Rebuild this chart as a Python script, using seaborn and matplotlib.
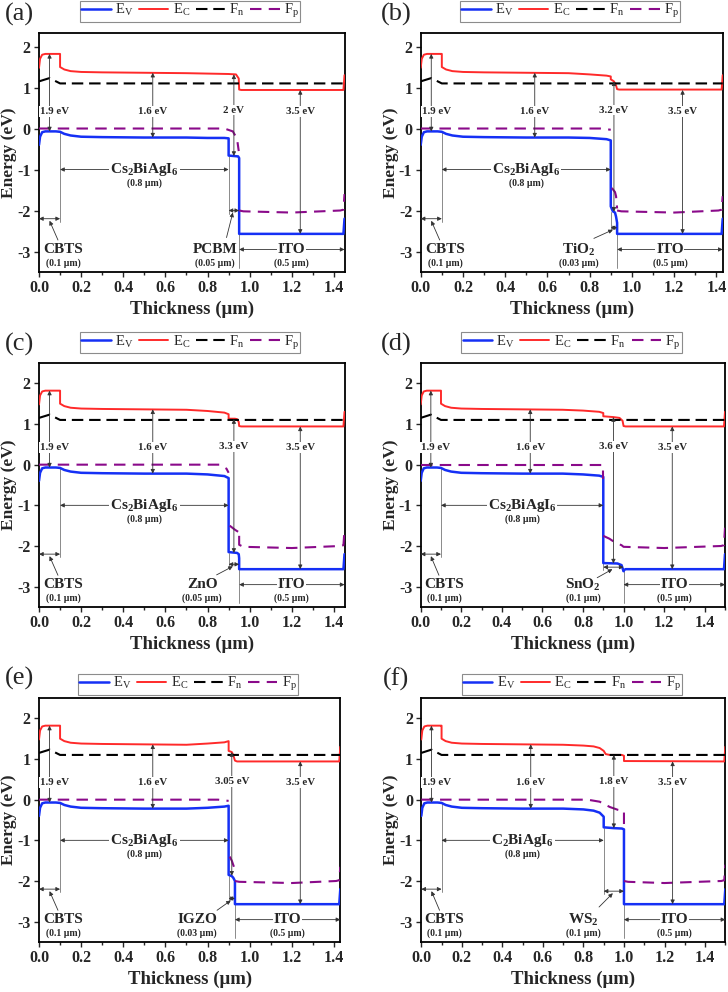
import numpy as np
import pandas as pd
import matplotlib
matplotlib.use('Agg')
import matplotlib.pyplot as plt
import seaborn as sns

sns.set_style('ticks')
plt.rcParams['font.family'] = ['Liberation Serif', 'DejaVu Serif']
plt.rcParams['mathtext.fontset'] = 'custom'
plt.rcParams['mathtext.rm'] = 'Liberation Serif'
plt.rcParams['mathtext.bf'] = 'Liberation Serif:bold'
plt.rcParams['mathtext.it'] = 'Liberation Serif:italic'
plt.rcParams['axes.unicode_minus'] = False

# ---------------- data ----------------
PANEL_LETTERS = ['(a)', '(b)', '(c)', '(d)', '(e)', '(f)']
CBTS_THICK = 0.1
ABS_THICK = 0.8
ITO_THICK = 0.5
ETL_THICK = [0.05, 0.03, 0.05, 0.1, 0.03, 0.1]
ETL_NAMES = ['PCBM', 'TiO$_\\mathbf{2}$', 'ZnO', 'SnO$_\\mathbf{2}$', 'IGZO', 'WS$_\\mathbf{2}$']
ETL_THICK_LABELS = ['(0.05 μm)', '(0.03 μm)', '(0.05 μm)', '(0.1 μm)', '(0.03 μm)', '(0.1 μm)']
ABS_NAMES = ['Cs$_\\mathbf{2}$BiAgI$_\\mathbf{6}$'] * 5 + ['C$_\\mathbf{2}$BiAgI$_\\mathbf{6}$']
ETL_GAP_LABELS = ['2 eV', '3.2 eV', '3.3 eV', '3.6 eV', '3.05 eV', '1.8 eV']
ETL_EV = [-0.67, -2.03, -2.17, -2.43, -1.87, -0.70]
ETL_EC = [1.32, 1.15, 1.12, 1.17, 1.17, 1.10]
CBTS_EV, CBTS_EC = -0.07, 1.82
ABS_EV, ABS_EC = -0.22, 1.36
ITO_EV, ITO_EC = -2.57, 0.94

# common part (CBTS + absorber, up to 0.7 um)
EC_HEAD_X = [0.0, 0.005, 0.015, 0.03, 0.095, 0.1, 0.1, 0.12, 0.15, 0.2, 0.3, 0.5, 0.7]
EC_HEAD_Y = [1.48, 1.70, 1.80, 1.82, 1.82, 1.82, 1.50, 1.44, 1.40, 1.38, 1.37, 1.36, 1.35]
EV_HEAD_X = [0.0, 0.005, 0.015, 0.03, 0.08, 0.1, 0.12, 0.15, 0.2, 0.3, 0.5, 0.7]
EV_HEAD_Y = [-0.40, -0.20, -0.09, -0.07, -0.07, -0.08, -0.13, -0.17, -0.20, -0.21, -0.22, -0.22]
FN_HEAD_X = [0.0, 0.05, 0.1]
FN_HEAD_Y = [1.15, 1.23, 1.10]
FN_LEVEL = 1.10

# (a) PCBM
EC_X_A = [0.8, 0.9, 0.935, 0.948, 0.95, 0.96, 1.445, 1.45]
EC_Y_A = [1.34, 1.33, 1.32, 1.22, 0.95, 0.94, 0.94, 1.30]
EV_X_A = [0.8, 0.88, 0.9, 0.9, 0.945, 0.95, 0.95, 1.445, 1.45]
EV_Y_A = [-0.23, -0.23, -0.24, -0.66, -0.68, -0.72, -2.57, -2.57, -2.20]
FP_X_A = [[0.0, 0.88, 0.92, 0.94, 0.948], [0.95, 0.97, 1.2, 1.43, 1.445, 1.45]]
FP_Y_A = [[0.0, 0.0, -0.07, -0.25, -0.55], [-2.0, -2.02, -2.05, -2.0, -1.98, -1.6]]

# (b) TiO2
EC_X_B = [0.8, 0.88, 0.9, 0.9, 0.915, 0.925, 0.93, 0.94, 1.425, 1.43]
EC_Y_B = [1.32, 1.29, 1.27, 1.20, 1.15, 1.05, 0.96, 0.95, 0.95, 1.30]
EV_X_B = [0.8, 0.88, 0.9, 0.9, 0.91, 0.92, 0.925, 0.93, 0.93, 1.425, 1.43]
EV_Y_B = [-0.23, -0.26, -0.29, -1.90, -2.02, -2.05, -2.15, -2.30, -2.57, -2.57, -2.20]
FP_X_B = [[0.0, 0.85, 0.9], [0.905, 0.92, 0.925, 0.93], [0.93, 0.95, 1.2, 1.41, 1.425, 1.43]]
FP_Y_B = [[0.0, 0.0, -0.03], [-1.45, -1.55, -1.65, -1.95], [-2.0, -2.02, -2.05, -2.0, -1.98, -1.65]]

# (c) ZnO
EC_X_C = [0.8, 0.88, 0.9, 0.9, 0.93, 0.94, 0.948, 0.95, 0.96, 1.445, 1.45]
EC_Y_C = [1.32, 1.28, 1.24, 1.13, 1.13, 1.12, 1.05, 0.95, 0.94, 0.94, 1.30]
EV_X_C = [0.8, 0.88, 0.9, 0.9, 0.94, 0.948, 0.95, 0.95, 1.445, 1.45]
EV_Y_C = [-0.24, -0.28, -0.33, -2.15, -2.17, -2.20, -2.30, -2.57, -2.57, -2.20]
FP_X_C = [[0.0, 0.86, 0.89, 0.9], [0.905, 0.93, 0.945], [0.95, 0.95, 0.97, 1.2, 1.43, 1.445, 1.45]]
FP_Y_C = [[0.0, 0.0, -0.1, -0.2], [-1.5, -1.6, -1.65], [-1.75, -1.97, -2.02, -2.05, -2.0, -1.98, -1.6]]

# (d) SnO2
EC_X_D = [0.8, 0.88, 0.9, 0.9, 0.95, 0.98, 0.995, 1.0, 1.01, 1.495, 1.5]
EC_Y_D = [1.33, 1.30, 1.27, 1.19, 1.17, 1.15, 1.08, 0.95, 0.94, 0.94, 1.30]
EV_X_D = [0.8, 0.88, 0.9, 0.9, 0.97, 0.99, 1.0, 1.0, 1.01, 1.495, 1.5]
EV_Y_D = [-0.24, -0.27, -0.30, -2.42, -2.43, -2.47, -2.62, -2.60, -2.57, -2.57, -2.20]
FP_X_D = [[0.0, 0.9, 0.9], [0.9, 0.93, 0.96, 0.99, 1.0, 1.2, 1.48, 1.495, 1.5]]
FP_Y_D = [[0.0, 0.0, -0.35], [-1.75, -1.82, -1.92, -1.98, -2.02, -2.05, -2.0, -1.98, -1.55]]

# (e) IGZO
EC_X_E = [0.8, 0.88, 0.9, 0.9, 0.915, 0.922, 0.93, 0.94, 1.425, 1.43]
EC_Y_E = [1.38, 1.41, 1.44, 1.20, 1.17, 1.10, 0.96, 0.94, 0.94, 1.30]
EV_X_E = [0.8, 0.88, 0.9, 0.9, 0.915, 0.922, 0.93, 0.93, 1.425, 1.43]
EV_Y_E = [-0.20, -0.17, -0.15, -1.85, -1.88, -1.92, -2.0, -2.57, -2.57, -2.20]
FP_X_E = [[0.0, 0.85, 0.9], [0.905, 0.915, 0.925], [0.93, 0.95, 1.2, 1.41, 1.425, 1.43]]
FP_Y_E = [[0.0, 0.0, -0.03], [-1.4, -1.5, -1.65], [-2.0, -2.02, -2.05, -2.0, -1.98, -1.65]]

# (f) WS2
EC_X_F = [0.8, 0.85, 0.88, 0.9, 0.91, 0.93, 0.99, 1.0, 1.0, 1.495, 1.5]
EC_Y_F = [1.33, 1.31, 1.27, 1.20, 1.12, 1.10, 1.10, 1.08, 0.95, 0.94, 1.30]
EV_X_F = [0.8, 0.85, 0.88, 0.9, 0.9, 0.95, 0.99, 1.0, 1.0, 1.495, 1.5]
EV_Y_F = [-0.24, -0.27, -0.32, -0.42, -0.68, -0.70, -0.71, -0.73, -2.57, -2.57, -2.20]
FP_X_F = [[0.0, 0.82, 0.88, 0.93, 0.97, 1.0, 1.0], [1.0, 1.02, 1.2, 1.48, 1.495, 1.5]]
FP_Y_F = [[0.0, 0.0, -0.05, -0.18, -0.25, -0.28, -0.6], [-2.0, -2.02, -2.05, -2.0, -1.98, -1.6]]

EC_X = [EC_X_A, EC_X_B, EC_X_C, EC_X_D, EC_X_E, EC_X_F]
EC_Y = [EC_Y_A, EC_Y_B, EC_Y_C, EC_Y_D, EC_Y_E, EC_Y_F]
EV_X = [EV_X_A, EV_X_B, EV_X_C, EV_X_D, EV_X_E, EV_X_F]
EV_Y = [EV_Y_A, EV_Y_B, EV_Y_C, EV_Y_D, EV_Y_E, EV_Y_F]
FP_X = [FP_X_A, FP_X_B, FP_X_C, FP_X_D, FP_X_E, FP_X_F]
FP_Y = [FP_Y_A, FP_Y_B, FP_Y_C, FP_Y_D, FP_Y_E, FP_Y_F]

# ---------------- layout / style ----------------
W, H = 728, 992
AX_PX = [(39, 33, 344.5, 272), (420.7, 33, 722.7, 272),
         (39, 363, 344.5, 607), (420.7, 363, 725, 607),
         (39, 698, 340.3, 942), (421.3, 698, 725.3, 942)]
YLIMS = [(-3.5, 2.33), (-3.5, 2.33), (-3.5, 2.5), (-3.5, 2.5), (-3.5, 2.5), (-3.5, 2.5)]
LETTER_PX = [(19, 14), (396, 14), (19, 344), (396, 344), (19, 678), (396, 679)]
LEG_Y = [1.092, 1.092, 1.084, 1.084, 1.057, 1.057]
ETL_ARROW_Y = [-2.0, -2.42, -2.45, -2.52, -2.43, -2.25]
ETL_TEXT_X = [0.835, 0.75, 0.775, 0.80, 0.75, 0.80]
ETL_PTR_FROM = [(0.89, -2.66), (0.82, -2.68), (0.843, -2.71), (0.87, -2.78), (0.845, -2.72), (0.877, -2.64)]

BLUE = '#1530f5'
RED = '#ff2a2a'
BLACK = '#000000'
PURPLE = '#8a0a8a'
ARW = '#333333'

fig = plt.figure(figsize=(W / 100, H / 100), dpi=100)


def darrow(ax, p1, p2, style='<|-|>'):
    ax.annotate('', xy=p2, xytext=p1,
                arrowprops=dict(arrowstyle=style, color=ARW, lw=0.6,
                                mutation_scale=6, shrinkA=0, shrinkB=0),
                zorder=4)


def label(ax, x, y, s, size, bg=True):
    kw = dict(ha='center', va='center', fontsize=size, fontweight='bold', zorder=6)
    if bg:
        kw['bbox'] = dict(facecolor='white', edgecolor='none', pad=0.6)
    ax.text(x, y, s, **kw)


for i in range(6):
    l, t, r, b = AX_PX[i]
    ax = fig.add_axes([l / W, 1 - b / H, (r - l) / W, (b - t) / H])
    b1 = CBTS_THICK
    b2 = CBTS_THICK + ABS_THICK
    b3 = b2 + ETL_THICK[i]
    end = b3 + ITO_THICK

    ev_x = EV_HEAD_X + EV_X[i]
    ev_y = EV_HEAD_Y + EV_Y[i]
    ec_x = EC_HEAD_X + EC_X[i]
    ec_y = EC_HEAD_Y + EC_Y[i]
    fn_x = FN_HEAD_X + [end]
    fn_y = FN_HEAD_Y + [FN_LEVEL]

    sns.lineplot(x=ev_x, y=ev_y, ax=ax, color=BLUE, lw=1.8, sort=False,
                 estimator=None, label='E$_\\mathrm{V}$', zorder=3)
    sns.lineplot(x=ec_x, y=ec_y, ax=ax, color=RED, lw=1.4, sort=False,
                 estimator=None, label='E$_\\mathrm{C}$', zorder=3)
    sns.lineplot(x=fn_x, y=fn_y, ax=ax, color=BLACK, lw=1.5, sort=False,
                 estimator=None, label='F$_\\mathrm{n}$', linestyle=(0, (5.5, 2.8)), zorder=3)
    for k, (sx, sy) in enumerate(zip(FP_X[i], FP_Y[i])):
        sns.lineplot(x=sx, y=sy, ax=ax, color=PURPLE, lw=1.5, sort=False,
                     estimator=None, label='F$_\\mathrm{p}$' if k == 0 else None,
                     linestyle=(0, (5.5, 3.5)), zorder=3)

    ax.set_xlim(0, end)
    ax.set_ylim(*YLIMS[i])
    xt = np.arange(0, end + 1e-6, 0.2)
    ax.set_xticks(xt)
    ax.set_xticks(np.arange(0.1, end + 1e-6, 0.2), minor=True)
    ax.set_xticklabels([f'{v:.1f}' for v in xt], fontweight='bold', fontsize=11.5)
    yt = [-3, -2, -1, 0, 1, 2]
    ax.set_yticks(yt)
    ax.set_yticklabels([str(v) for v in yt], fontweight='bold', fontsize=11.5)
    ax.tick_params(axis='both', which='major', direction='out', length=3.5, width=1.0, pad=2.5)
    ax.tick_params(axis='x', which='minor', direction='out', length=2.5, width=1.0)
    for sp in ax.spines.values():
        sp.set_linewidth(1.3)
        sp.set_color('black')
    ax.set_xlabel('Thickness (μm)', fontsize=13.5, fontweight='bold', labelpad=3)
    ax.set_ylabel('Energy (eV)', fontsize=12.5, fontweight='bold', labelpad=0)

    # band gap arrows
    xm_cbts = b1 / 2
    darrow(ax, (xm_cbts, CBTS_EV), (xm_cbts, CBTS_EC))
    label(ax, 0.075, 0.42, '1.9 eV', 7.8)
    darrow(ax, (0.54, ABS_EV), (0.54, ABS_EC))
    label(ax, 0.54, 0.42, '1.6 eV', 7.8)
    xm_etl = (b2 + b3) / 2
    darrow(ax, (xm_etl, ETL_EV[i]), (xm_etl, ETL_EC[i]))
    label(ax, xm_etl, 0.45, ETL_GAP_LABELS[i], 7.8)
    xm_ito = 1.24
    darrow(ax, (xm_ito, ITO_EV), (xm_ito, ITO_EC))
    label(ax, xm_ito, 0.42, '3.5 eV', 7.8)

    # guide lines
    ax.plot([b1, b1], [CBTS_EV, -2.28], color='#777777', lw=0.6, zorder=2)
    ax.plot([b2, b2], [ETL_EV[i], ETL_ARROW_Y[i] - 0.08], color='#777777', lw=0.6, zorder=2)
    ax.plot([b3, b3], [ITO_EV, -3.4], color='#777777', lw=0.6, zorder=2)

    # absorber thickness
    darrow(ax, (b1, -1.0), (b2, -1.0))
    label(ax, (b1 + b2) / 2, -1.0, ABS_NAMES[i], 11)
    label(ax, (b1 + b2) / 2, -1.34, '(0.8 μm)', 7, bg=False)

    # CBTS
    darrow(ax, (0.0, -2.2), (b1, -2.2))
    darrow(ax, (0.09, -2.72), (0.05, -2.25), style='-|>')
    label(ax, 0.115, -2.95, 'CBTS', 11, bg=False)
    label(ax, 0.115, -3.28, '(0.1 μm)', 7, bg=False)

    # ETL
    darrow(ax, (b2, ETL_ARROW_Y[i]), (b3, ETL_ARROW_Y[i]))
    darrow(ax, ETL_PTR_FROM[i], (xm_etl - 0.005, ETL_ARROW_Y[i] - 0.05), style='-|>')
    label(ax, ETL_TEXT_X[i], -2.95, ETL_NAMES[i], 11, bg=False)
    label(ax, ETL_TEXT_X[i], -3.28, ETL_THICK_LABELS[i], 7, bg=False)

    # ITO
    darrow(ax, (b3, -2.95), (end, -2.95))
    label(ax, (b3 + end) / 2, -2.95, 'ITO', 11)
    label(ax, (b3 + end) / 2, -3.28, '(0.5 μm)', 7, bg=False)

    leg = ax.legend(loc='center', bbox_to_anchor=(0.495, LEG_Y[i]), ncol=4, frameon=True,
                    fancybox=False, edgecolor='#8c8c8c', framealpha=1, fontsize=10.5,
                    handlelength=2.0, handletextpad=0.3, columnspacing=0.4,
                    borderpad=0.1, borderaxespad=0)
    leg.get_frame().set_linewidth(0.8)

    lx, ly = LETTER_PX[i]
    fig.text(lx / W, 1 - ly / H, PANEL_LETTERS[i], fontsize=19, ha='center', va='center')

fig.savefig('out.png', dpi=100)
